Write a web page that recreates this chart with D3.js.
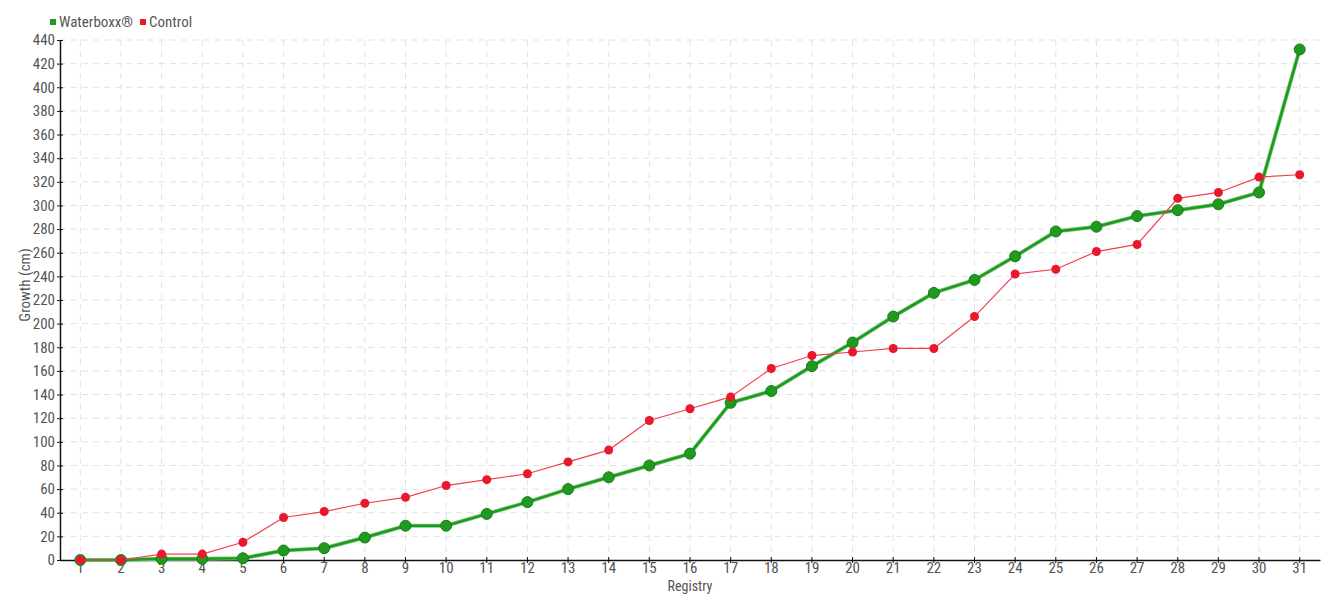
<!DOCTYPE html>
<html>
<head>
<meta charset="utf-8">
<script src="https://cdn.jsdelivr.net/npm/d3@7"></script>
<style>
  body { margin: 0; background: #fff; }
  svg text { font-family: "Roboto Condensed", "Liberation Sans Narrow", "DejaVu Sans Condensed", "Roboto", sans-serif; font-stretch: condensed; fill: #555; }
</style>
</head>
<body>
<div id="chart"></div>
<script>
//Datos
const registros = d3.range(1, 32).map(String);
const waterboxx = [0, 0, 1, 1, 1.5, 8, 10, 19, 29, 29, 39, 49, 60, 70, 80, 90, 133, 143, 164, 184, 206, 226, 237, 257, 278, 282, 291, 296, 301, 311, 432];
const control = [0, 0, 5, 5, 15, 36, 41, 48, 53, 63, 68, 73, 83, 93, 118, 128, 138, 162, 173, 176, 179, 179, 206, 242, 246, 261, 267, 306, 311, 324, 326];
const yTicks = d3.range(0, 441, 20);

//Colores
const COLOR_GREEN = '#1e9b1e',
  COLOR_GREEN_DARK = '#1a7a1a',
  COLOR_RED = '#f2404f',
  COLOR_RED_DOT = '#e8192c';

let margin = {top: 40, right: 20, bottom: 40, left: 60},
  width = 1340 - margin.left - margin.right,
  height = 600 - margin.top - margin.bottom;

let svg = d3.select('#chart')
  .append('svg')
    .attr('width', 1340)
    .attr('height', 600);

let chart = svg.append('g')
  .attr('transform', 'translate(' + margin.left + ',' + margin.top + ')');

//Eje X
let x = d3.scaleBand()
  .domain(registros)
  .range([0, width]);

//Eje Y
let y = d3.scaleLinear()
  .domain([0, 440])
  .range([height, 0]);

//Rejilla
chart.append('g')
  .selectAll('line')
  .data(yTicks.slice(1))
  .enter()
  .append('line')
    .attr('x1', 0)
    .attr('x2', width)
    .attr('y1', function(d) { return y(d); })
    .attr('y2', function(d) { return y(d); })
    .attr('stroke', '#e2e2e2')
    .attr('stroke-dasharray', '6,5');

chart.append('g')
  .selectAll('line')
  .data(registros)
  .enter()
  .append('line')
    .attr('x1', function(d) { return x(d) + x.bandwidth() / 2; })
    .attr('x2', function(d) { return x(d) + x.bandwidth() / 2; })
    .attr('y1', 0)
    .attr('y2', height)
    .attr('stroke', '#e2e2e2')
    .attr('stroke-dasharray', '6,5');

let xAxis = chart.append('g')
  .attr('transform', 'translate(0,' + height + ')')
  .call(d3.axisBottom(x).tickSize(3).tickSizeOuter(0));

let yAxis = chart.append('g')
  .call(d3.axisLeft(y).tickValues(yTicks).tickSize(3).tickSizeOuter(0));

[xAxis, yAxis].forEach(function(g) {
  g.select('.domain').attr('stroke', '#111').attr('stroke-width', 1.5);
  g.selectAll('.tick line').attr('stroke', '#111');
  g.selectAll('text').style('font-size', '15px').attr('fill', '#555');
});
yAxis.selectAll('.tick line').attr('x1', 3).attr('x2', -3);
yAxis.selectAll('text').attr('x', -5);
xAxis.selectAll('.tick line').attr('y1', -3).attr('y2', 3);
xAxis.selectAll('text').attr('y', 2);

//Títulos de ejes
svg.append('text')
  .attr('x', 690)
  .attr('y', 591)
  .attr('text-anchor', 'middle')
  .style('font-size', '14px')
  .text('Registry');

svg.append('text')
  .attr('transform', 'translate(30,' + (margin.top + height / 2 - 15) + ') rotate(-90)')
  .attr('text-anchor', 'middle')
  .style('font-size', '15px')
  .text('Growth (cm)');

let cx = function(d, i) { return x(registros[i]) + x.bandwidth() / 2; };

let line = d3.line()
  .x(function(d, i) { return cx(d, i); })
  .y(function(d) { return y(d); });

//Serie Waterboxx
chart.append('path')
  .datum(waterboxx)
  .attr('fill', 'none')
  .attr('stroke', '#7cc87c')
  .attr('stroke-width', 4)
  .attr('d', line);

chart.append('path')
  .datum(waterboxx)
  .attr('fill', 'none')
  .attr('stroke', COLOR_GREEN)
  .attr('stroke-width', 2.5)
  .attr('d', line);

chart.append('g')
  .selectAll('circle')
  .data(waterboxx)
  .enter()
  .append('circle')
    .attr('cx', cx)
    .attr('cy', function(d) { return y(d); })
    .attr('r', 5.5)
    .attr('fill', COLOR_GREEN)
    .attr('stroke', COLOR_GREEN_DARK)
    .attr('stroke-width', 1);

//Serie Control
chart.append('path')
  .datum(control)
  .attr('fill', 'none')
  .attr('stroke', COLOR_RED)
  .attr('stroke-width', 1.2)
  .attr('d', line);

chart.append('g')
  .selectAll('circle')
  .data(control)
  .enter()
  .append('circle')
    .attr('cx', cx)
    .attr('cy', function(d) { return y(d); })
    .attr('r', 4.5)
    .attr('fill', COLOR_RED_DOT);

//Leyenda
let legend = [{name: 'Waterboxx®', color: COLOR_GREEN, x: 50}, {name: 'Control', color: COLOR_RED_DOT, x: 140}];

let lg = svg.append('g')
  .selectAll('g')
  .data(legend)
  .enter()
  .append('g')
  .attr('transform', function(d) { return 'translate(' + d.x + ',0)'; });

lg.append('rect')
  .attr('x', 0)
  .attr('y', 19)
  .attr('width', 6)
  .attr('height', 6)
  .attr('fill', function(d) { return d.color; });

lg.append('text')
  .attr('x', 9)
  .attr('y', 27)
  .style('font-size', '15px')
  .text(function(d) { return d.name; });
</script>
</body>
</html>
